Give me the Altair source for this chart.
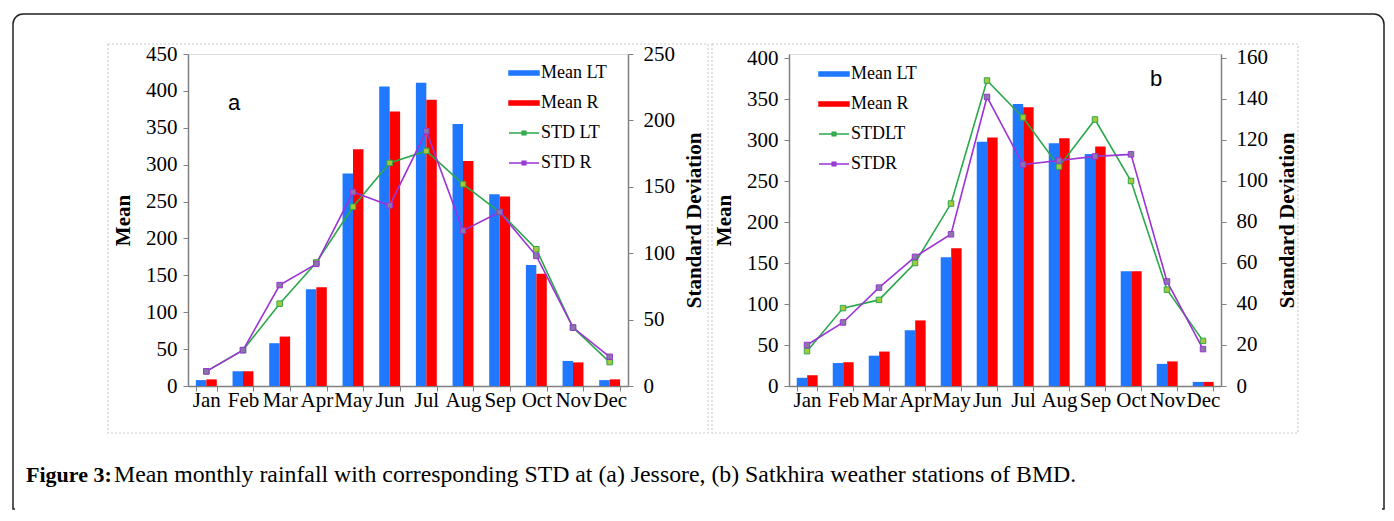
import altair as alt
import pandas as pd

months = ["Jan", "Feb", "Mar", "Apr", "May", "Jun", "Jul", "Aug", "Sep", "Oct", "Nov", "Dec"]

# Panel a: Jessore
a_mean_lt = [8, 20, 58, 131, 288, 406, 411, 355, 260, 164, 34, 8]
a_mean_r = [9, 20, 67, 134, 321, 372, 388, 305, 257, 152, 32, 9]
a_std_lt = [11, 27, 62, 93, 135, 168, 177, 152, 131, 103, 44, 18]
a_std_r = [11, 27, 76, 92, 146, 136, 192, 117, 131, 98, 44, 22]

# Panel b: Satkhira
b_mean_lt = [10, 28, 37, 68, 157, 298, 344, 296, 283, 140, 27, 5]
b_mean_r = [13, 29, 42, 80, 168, 303, 340, 302, 292, 140, 30, 5]
b_std_lt = [17, 38, 42, 60, 89, 149, 131, 107, 130, 100, 47, 22]
b_std_r = [20, 31, 48, 63, 74, 141, 108, 110, 112, 113, 51, 18]

names_a = ["Mean LT", "Mean R", "STD LT", "STD R"]
names_b = ["Mean LT", "Mean R", "STDLT", "STDR"]

a_y_ticks = list(range(0, 451, 50))
a_y2_ticks = list(range(0, 251, 50))
b_y_ticks = list(range(0, 401, 50))
b_y2_ticks = list(range(0, 161, 20))

caption_bold = "Figure 3:"
caption_text = "Mean monthly rainfall with corresponding STD at (a) Jessore, (b) Satkhira weather stations of BMD."

SERIF = "Liberation Serif"
BLUE = "#1f78ff"
RED = "#ff0000"
GREEN = "#2aa84a"
GREEN_MK = "#a8c83c"
PURPLE = "#9b33d6"
PURPLE_MK = "#8878a8"
AXIS_GRAY = "#808080"

BAR_PATH = "M-1,-0.14H1V0.14H-1Z"
LINE_PATH = "M-1,0H1M-0.12,-0.12H0.12V0.12H-0.12Z"

H = 332
one = pd.DataFrame({"k": [0]})


def make_panel(mean_lt, mean_r, std_lt, std_r, names, ydom, y2dom, yticks, y2ticks,
               width, legend_x, legend_y, tag, tag_x, tag_y, extras):
    bars_df = pd.DataFrame({
        "month": months * 2,
        "series": [names[0]] * 12 + [names[1]] * 12,
        "value": mean_lt + mean_r,
    })
    std_df = pd.DataFrame({
        "month": months * 2,
        "series": [names[2]] * 12 + [names[3]] * 12,
        "std": std_lt + std_r,
    })
    legend_df = pd.DataFrame({"series": names})

    fill_scale = alt.Scale(domain=names, range=[BLUE, RED, GREEN_MK, PURPLE_MK])
    stroke_scale = alt.Scale(domain=names, range=[BLUE, RED, GREEN, PURPLE])
    shape_scale = alt.Scale(domain=names, range=[BAR_PATH, BAR_PATH, LINE_PATH, LINE_PATH])

    xenc = alt.X(
        "month:N", sort=months,
        scale=alt.Scale(domain=months, paddingInner=0.43, paddingOuter=0.215),
        axis=alt.Axis(title=None, labelAngle=0, labelFont=SERIF, labelFontSize=21,
                      labelColor="black", tickBand="extent", tickSize=5, tickColor=AXIS_GRAY,
                      domainColor=AXIS_GRAY, domainWidth=1.5, labelPadding=-2,
                      labelOverlap=False, grid=False),
    )
    left_axis = alt.Axis(values=yticks, title="Mean", labelFont=SERIF, labelFontSize=21,
                         labelColor="black", tickSize=5, tickColor=AXIS_GRAY,
                         domainColor=AXIS_GRAY, domainWidth=1.5, labelPadding=6, grid=False,
                         titleFont=SERIF, titleFontSize=21, titleFontWeight="bold",
                         titleColor="black", titleAngle=270, titleX=-65, titleY=H / 2,
                         titleAlign="center", titleBaseline="middle")
    right_axis = alt.Axis(values=y2ticks, orient="right", title="Standard Deviation",
                          labelFont=SERIF, labelFontSize=21, labelColor="black", tickSize=5,
                          tickColor=AXIS_GRAY, domainColor=AXIS_GRAY, domainWidth=1.5,
                          labelPadding=10, grid=False, titleFont=SERIF, titleFontSize=21,
                          titleFontWeight="bold", titleColor="black", titleAngle=270,
                          titleX=66, titleY=H / 2, titleAlign="center", titleBaseline="middle")

    bars = alt.Chart(bars_df).mark_bar().encode(
        x=xenc,
        xOffset=alt.XOffset("series:N", sort=names[:2],
                            scale=alt.Scale(domain=names[:2], paddingInner=0, paddingOuter=0)),
        y=alt.Y("value:Q", scale=alt.Scale(domain=ydom, nice=False, zero=True), axis=left_axis),
        fill=alt.Fill("series:N", scale=fill_scale, legend=None),
    )
    y2 = alt.Y("std:Q", scale=alt.Scale(domain=y2dom, nice=False, zero=True), axis=right_axis)
    lines = alt.Chart(std_df).mark_line(strokeWidth=1.6).encode(
        x=xenc, y=y2,
        stroke=alt.Stroke("series:N", scale=stroke_scale, legend=None),
        detail="series:N",
    )
    points = alt.Chart(std_df).mark_point(filled=True, shape="square", size=30,
                                          strokeWidth=1, opacity=1).encode(
        x=xenc, y=y2,
        fill=alt.Fill("series:N", scale=fill_scale, legend=None),
        stroke=alt.Stroke("series:N", scale=stroke_scale, legend=None),
    )
    std_layer = alt.layer(lines, points)

    leg_props = alt.Legend(orient="none", legendX=legend_x, legendY=legend_y, title=None,
                           symbolSize=900, symbolStrokeWidth=1.5, symbolFillColor="#000000",
                           symbolStrokeColor="#000000", labelFont=SERIF, labelFontSize=18,
                           labelColor="black", labelOffset=1, rowPadding=5, padding=0,
                           symbolOffset=0, direction="vertical")
    legend_layer = alt.Chart(legend_df).mark_point(filled=True, opacity=1).encode(
        fill=alt.Fill("series:N", scale=fill_scale, legend=leg_props),
        stroke=alt.Stroke("series:N", scale=stroke_scale, legend=leg_props),
        shape=alt.Shape("series:N", scale=shape_scale, legend=leg_props),
    ).transform_filter("false")

    tag_text = alt.Chart(one).mark_text(text=tag, font="Liberation Sans", fontSize=22,
                                        color="black", align="center", baseline="middle").encode(
        x=alt.value(tag_x), y=alt.value(tag_y))

    layers = extras + [bars, std_layer, legend_layer, tag_text]
    return alt.layer(*layers).resolve_scale(
        y="independent", fill="independent", stroke="independent", shape="independent"
    ).resolve_legend(
        fill="independent", stroke="independent", shape="independent"
    ).properties(width=width, height=H)


def frame_rect(x1, x2, y1, y2, **kw):
    return alt.Chart(one).mark_rect(fill="transparent", **kw).encode(
        x=alt.value(x1), x2=alt.value(x2), y=alt.value(y1), y2=alt.value(y2))


# decorations of panel a (positions relative to panel a's plot area)
outer_box = frame_rect(-175, 1196, -40, 455, stroke="#222222", strokeWidth=1.5,
                       cornerRadiusTopLeft=10, cornerRadiusTopRight=10)
outer_hide = alt.Chart(one).mark_rule(stroke="white", strokeWidth=4).encode(
    x=alt.value(-173), x2=alt.value(1194), y=alt.value(455))
border_a = frame_rect(-80, 520, -10, 379, stroke="#cccccc", strokeWidth=1.2, strokeDash=[2, 2])
cap1 = alt.Chart(one).mark_text(text=caption_bold, font=SERIF, fontSize=22, fontWeight="bold",
                                color="black", align="left", baseline="middle").encode(
    x=alt.value(-162), y=alt.value(421))
cap2 = alt.Chart(one).mark_text(text=caption_text, font=SERIF, fontSize=23.8,
                                color="black", align="left", baseline="middle").encode(
    x=alt.value(-74), y=alt.value(421))

border_b = frame_rect(-77, 509, -10, 379, stroke="#cccccc", strokeWidth=1.2, strokeDash=[2, 2])

panel_a = make_panel(a_mean_lt, a_mean_r, a_std_lt, a_std_r, names_a,
                     [0, 450], [0, 250], a_y_ticks, a_y2_ticks,
                     440, 320, 3, "a", 46, 49,
                     [outer_box, outer_hide, border_a, cap1, cap2])
panel_b = make_panel(b_mean_lt, b_mean_r, b_std_lt, b_std_r, names_b,
                     [0, 404.88], [0, 161.95], b_y_ticks, b_y2_ticks,
                     432, 29, 4, "b", 367, 25,
                     [border_b])

chart = alt.hconcat(panel_a, panel_b, spacing=161, bounds="flush").resolve_scale(
    fill="independent", stroke="independent", shape="independent"
).resolve_legend(
    fill="independent", stroke="independent", shape="independent"
).properties(
    padding={"left": 3, "top": 4, "right": 0, "bottom": 0}
).configure_view(
    stroke="#707070", strokeWidth=1.5
).configure_legend(
    labelFont=SERIF, labelFontSize=18, labelColor="black"
).configure(background="white")

chart.save("out.html", embed_options={"renderer": "svg", "actions": False})
